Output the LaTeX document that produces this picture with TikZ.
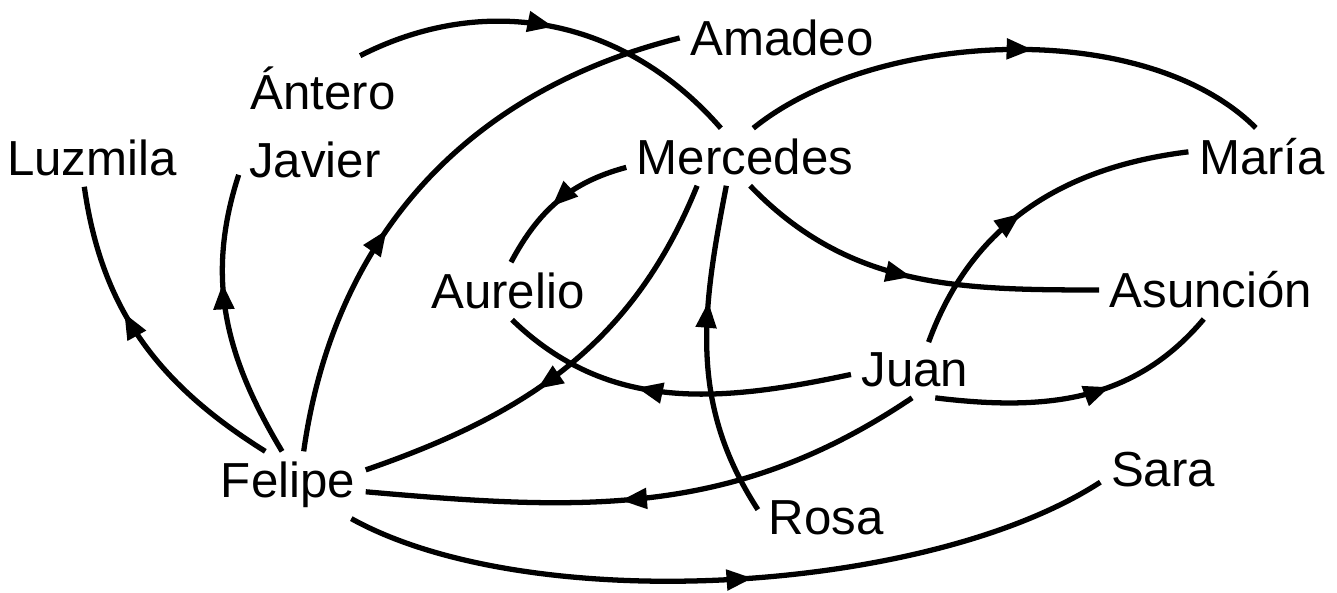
\documentclass[tikz,border=0pt]{standalone}
\usepackage{fontspec}
\setmainfont{Liberation Sans}
\usetikzlibrary{arrows.meta, decorations.markings}
\tikzset{
  person/.style={inner sep=0.1cm, font=\fontsize{14}{16}\selectfont},
  link/.style={line width=1.5pt, color=black, postaction=decorate,
    decoration={markings, mark=at position #1 with
      {\arrow{Triangle[length=2.6mm, width=2mm]}}}},
  link/.default=0.5
}

\begin{document}
\begin{tikzpicture}
  \useasboundingbox (0,0) rectangle (13.37,5.93);
  \node[person] (luzmila) at (0.92,4.35) {Luzmila};
  \node[person] (javier) at (3.15,4.33) {Javier};
  \node[person] (antero) at (3.23,5.05) {Ántero};
  \node[person] (amadeo) at (7.82,5.55) {Amadeo};
  \node[person] (mercedes) at (7.45,4.36) {Mercedes};
  \node[person] (maria) at (12.62,4.36) {María};
  \node[person] (aurelio) at (5.08,3.02) {Aurelio};
  \node[person] (asuncion) at (12.11,3.03) {Asunción};
  \node[person] (juan) at (9.15,2.23) {Juan};
  \node[person] (felipe) at (2.88,1.08) {Felipe};
  \node[person] (sara) at (11.63,1.23) {Sara};
  \node[person] (rosa) at (8.26,0.75) {Rosa};

  \draw[link=0.6] (felipe.124) to[out=148, in=-82] (luzmila.255);
  \draw[link=0.62] (felipe.100) to[out=121, in=-108] (javier.191);
  \draw[link=0.4] (felipe.65) to[out=82, in=194] (amadeo.west);
  \draw[link=0.5] (antero.41) to[out=27, in=131] (mercedes.130);
  \draw[link=0.55] (mercedes.185) to[out=195, in=62] (aurelio.84);
  \draw[link=0.58] (mercedes.211) to[out=248, in=19] (felipe.11);
  \draw[link=0.65] (rosa.173) to[out=123, in=-101] (mercedes.237);
  \draw[link=0.55] (mercedes.74) to[out=39, in=135, looseness=0.8] (maria.102);
  \draw[link=0.5] (mercedes.280) to[out=-46, in=180] (asuncion.west);
  \draw[link=0.47] (juan.64) to[out=70, in=187] (maria.176);
  \draw[link=0.6] (juan.184) to[out=192, in=-44] (aurelio.278);
  \draw[link=0.6] (juan.306) to[out=-7, in=230] (asuncion.256);
  \draw[link=0.55] (juan.264) to[out=214, in=-5] (felipe.355);
  \draw[link=0.53] (felipe.332) to[out=-29, in=213, looseness=0.7] (sara.191);
\end{tikzpicture}
\end{document}
